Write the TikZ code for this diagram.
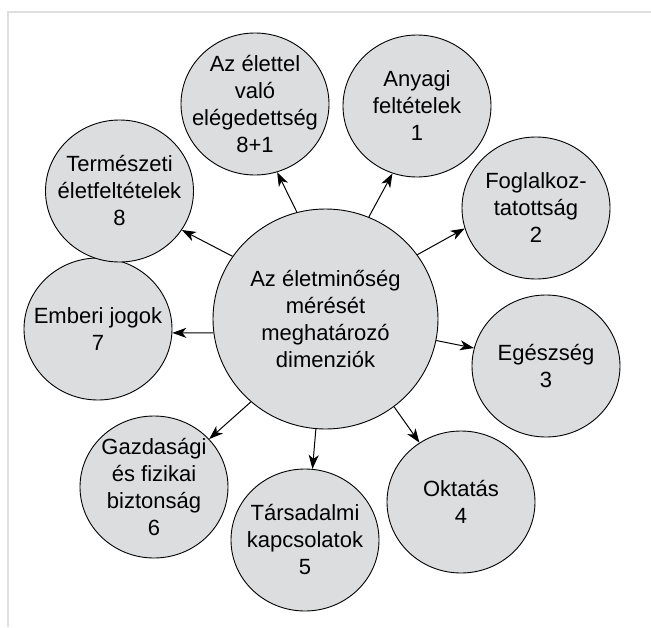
\documentclass[tikz,border=0pt]{standalone}
\usepackage{fontspec}
\setmainfont{Liberation Sans}
\usetikzlibrary{arrows.meta,shapes.geometric}
\definecolor{dimfill}{RGB}{220,221,223}
\tikzset{
    dimtext/.style={align=center, inner sep=0pt, font=\fontsize{22}{27}\selectfont},
    dim/.style={ellipse, draw, line width=0.9pt, fill=dimfill, inner sep=0pt,
        minimum width=148pt, minimum height=142pt,
        label={[dimtext]center:#1}},
    hub/.style={dim=#1, minimum width=225pt, minimum height=220pt},
    link/.style={line width=1pt, -{Stealth[length=14pt,width=10pt,inset=4pt]}},
}
\begin{document}
\begin{tikzpicture}[x=1pt,y=1pt]
    \useasboundingbox (0,0) rectangle (651,-627);
    % keret
    \draw[gray!25, line width=1.5pt] (8,-627) -- (8,-12) -- (651,-12);
    %% kozepso kor
    \node[hub={Az életminőség\\mérését\\meghatározó\\dimenziók}] (c) at (325.5,-319) {};
    %% dimenziok
    \node[dim={Az élettel\\való\\elégedettség\\8+1}] (d9) at (255,-104) {};
    \node[dim={Anyagi\\feltételek\\1}] (d1) at (417,-106) {};
    \node[dim={Foglalkoz-\\tatottság\\2}] (d2) at (536,-208) {};
    \node[dim={Egészség\\3}] (d3) at (546,-366) {};
    \node[dim={Oktatás\\4}] (d4) at (461,-502) {};
    \node[dim={Társadalmi\\kapcsolatok\\5}] (d5) at (305,-540) {};
    \node[dim={Gazdasági\\és fizikai\\biztonság\\6}] (d6) at (154,-487) {};
    \node[dim={Emberi jogok\\7}] (d7) at (98,-329) {};
    \node[dim={Természeti\\életfeltételek\\8}] (d8) at (119.5,-191) {};
    % nyilak
    \draw[link] (c.105.4) -- (d9.-72.8);
    \draw[link] (c.67.8) -- (d1.250.1);
    \draw[link] (c.35) -- (d2.196.6);
    \draw[link] (c.-11.7) -- (d3.166);
    \draw[link] (c.-52.8) -- (d4.125.4);
    \draw[link] (c.-95.9) -- (d5.84.4);
    \draw[link] (c.228.5) -- (d6.41.9);
    \draw[link] (c.187) -- (d7.-3);
    \draw[link] (c.146.3) -- (d8.-32);
\end{tikzpicture}
\end{document}
